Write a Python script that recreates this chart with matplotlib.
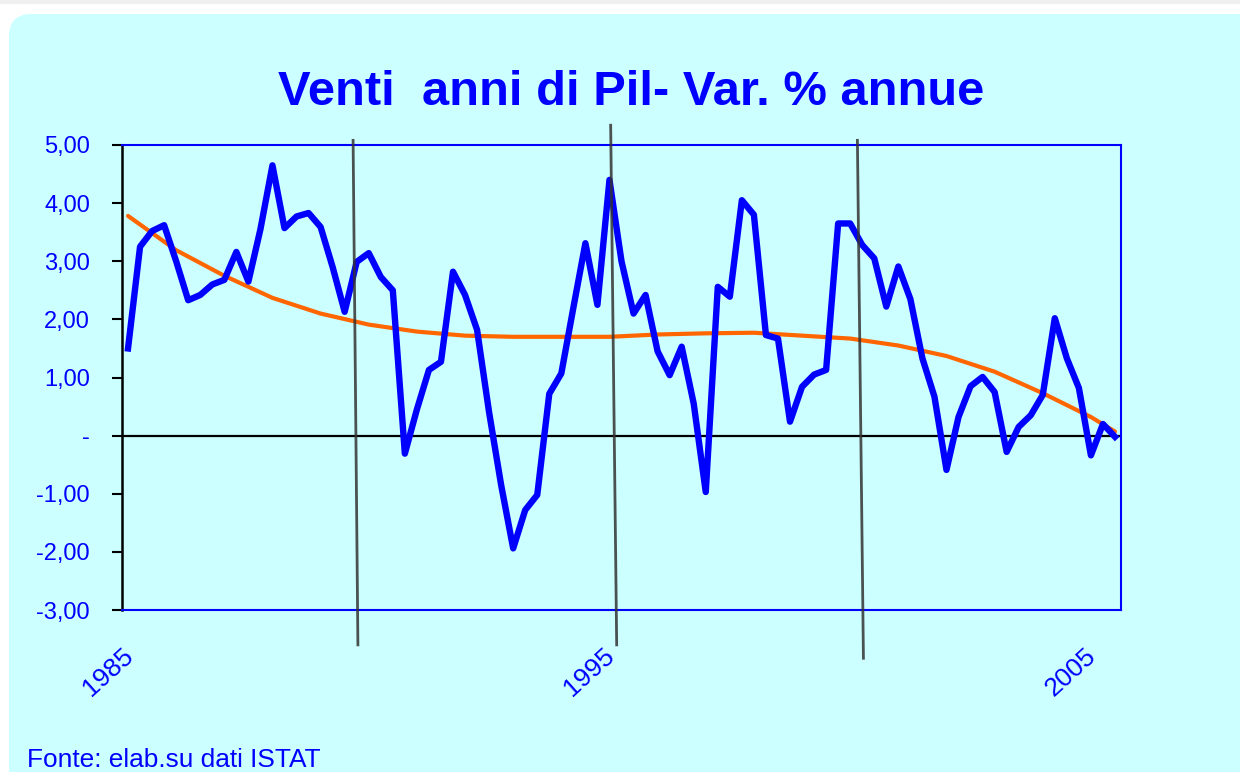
import numpy as np
import matplotlib
matplotlib.use("Agg")
import matplotlib.pyplot as plt
from matplotlib.patches import FancyBboxPatch, Rectangle

# ── data (quarterly, 1985Q1 .. 2005Q3) ───────────────────────────────────────
PIL_VAR = [
    1.50, 3.25, 3.52, 3.62, 3.00, 2.33, 2.42, 2.60, 2.68, 3.16,
    2.65, 3.55, 4.65, 3.57, 3.77, 3.83, 3.59, 2.90, 2.13, 2.99,
    3.14, 2.73, 2.50, -0.31, 0.45, 1.13, 1.27, 2.82, 2.42, 1.82,
    0.40, -0.85, -1.94, -1.28, -1.02, 0.72, 1.07, 2.20, 3.31, 2.25,
    4.40, 3.00, 2.10, 2.42, 1.45, 1.04, 1.53, 0.55, -0.97, 2.56,
    2.39, 4.05, 3.80, 1.73, 1.67, 0.24, 0.84, 1.05, 1.13, 3.65,
    3.65, 3.28, 3.05, 2.22, 2.91, 2.35, 1.33, 0.67, -0.59, 0.32,
    0.85, 1.01, 0.75, -0.28, 0.15, 0.35, 0.70, 2.02, 1.33, 0.82,
    -0.34, 0.20, -0.02,
]

# trend line (Excel polynomial trend) read at every 4th quarter
TREND_IDX = [0, 4, 8, 12, 16, 20, 24, 28, 32, 36, 40,
             44, 48, 52, 56, 60, 64, 68, 72, 76, 80, 82]
TREND_VAL = [3.78, 3.19, 2.75, 2.37, 2.10, 1.91, 1.79, 1.72, 1.70, 1.70, 1.70,
             1.74, 1.76, 1.77, 1.72, 1.67, 1.55, 1.37, 1.10, 0.73, 0.32, 0.07]

# category axis labels every 40 quarters
XTICK_POS = [-0.5, 39.5, 79.5]
XTICK_LABELS = ["1985", "1995", "2005"]

YTICKS = [5, 4, 3, 2, 1, 0, -1, -2, -3]
YTICK_LABELS = ["5,00", "4,00", "3,00", "2,00", "1,00", "-", "-1,00", "-2,00", "-3,00"]

# hand-drawn period separators (quarter index, value) top -> bottom
SEP_X_TOP = [18.7, 40.1, 60.6]
SEP_X_BOT = [19.1, 40.6, 61.1]
SEP_Y_TOP = [5.08, 5.34, 5.08]
SEP_Y_BOT = [-3.60, -3.60, -3.83]

TITLE = "Venti  anni di Pil- Var. % annue"
SOURCE = "Fonte: elab.su dati ISTAT"

BLUE = "#0000FF"
ORANGE = "#FF6600"
CYAN = "#CCFFFF"

plt.rcParams["font.family"] = ["Liberation Sans", "DejaVu Sans"]

W, H = 1240, 772
fig = plt.figure(figsize=(W / 100, H / 100), dpi=100)
fig.patch.set_facecolor("white")

# top grey strip + rounded cyan panel (behind the axes)
fig.patches.append(Rectangle((0, 1 - 4 / H), 1, 4 / H, transform=fig.transFigure,
                             facecolor="#f0f0f0", edgecolor="none", zorder=-10))
fig.patches.append(FancyBboxPatch((9 / W, -0.05), 1.2, 1 - 14 / H + 0.05,
                                  boxstyle="round,pad=0,rounding_size=0.018",
                                  transform=fig.transFigure, facecolor=CYAN,
                                  edgecolor="none", zorder=-10, mutation_aspect=W / H))

ax = fig.add_axes([122 / W, 1 - 610 / H, 999 / W, 465 / H])
ax.set_facecolor(CYAN)

x = np.arange(len(PIL_VAR))
ax.axhline(0, color="black", lw=1.6, zorder=2)
ax.plot(TREND_IDX, TREND_VAL, color=ORANGE, lw=3.0, zorder=3, solid_capstyle="round")
ax.plot(x, PIL_VAR, color=BLUE, lw=4.6, zorder=4, solid_joinstyle="round")

for xt, xb, yt, yb in zip(SEP_X_TOP, SEP_X_BOT, SEP_Y_TOP, SEP_Y_BOT):
    ax.plot([xt, xb], [yt, yb], color="#333333", lw=2.0, alpha=0.85,
            clip_on=False, zorder=5)

ax.set_xlim(-0.5, len(PIL_VAR) - 0.5)
ax.set_ylim(-3, 5)

ax.set_yticks(YTICKS)
ax.set_yticklabels(YTICK_LABELS, color=BLUE, fontsize=17)
ax.tick_params(axis="y", length=7, width=1.5, color="black", pad=16)

ax.set_xticks(XTICK_POS)
ax.set_xticklabels(XTICK_LABELS, color=BLUE, fontsize=19, rotation=42,
                   ha="right", va="top", rotation_mode="anchor")
ax.tick_params(axis="x", length=0, pad=24)

for side in ["top", "right", "bottom"]:
    ax.spines[side].set_color(BLUE)
    ax.spines[side].set_linewidth(1.5)
ax.spines["left"].set_color("black")
ax.spines["left"].set_linewidth(1.8)

fig.text(631.5 / W, 1 - 105 / H, TITLE, color=BLUE, fontsize=35.2,
         fontweight="bold", ha="center", va="baseline")
fig.text(27 / W, 1 - 767 / H, SOURCE, color=BLUE, fontsize=18.9,
         ha="left", va="baseline")

fig.savefig("out.png", dpi=100)
